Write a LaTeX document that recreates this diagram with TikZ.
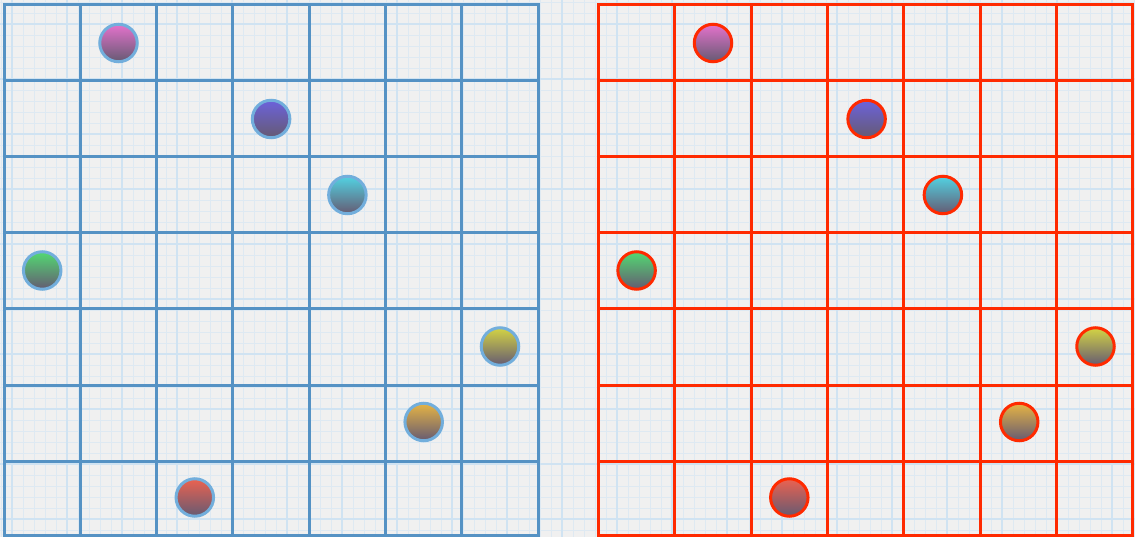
\documentclass[tikz,border=0pt]{standalone}
\usetikzlibrary{calc}
\definecolor{bgcol}{HTML}{F0F0F0}
\definecolor{minorcol}{HTML}{DEE9F2}
\definecolor{majorcol}{HTML}{D0E3F2}
\definecolor{bluegrid}{HTML}{5592C4}
\definecolor{blueedge}{HTML}{72AEDC}
\definecolor{redgrid}{HTML}{FF2A00}
\definecolor{ballbot}{HTML}{655A72}
\definecolor{pinktop}{HTML}{E472CC}
\definecolor{purptop}{HTML}{6C62DC}
\definecolor{cyantop}{HTML}{52D2E2}
\definecolor{greentop}{HTML}{52DA72}
\definecolor{yellowtop}{HTML}{D4D444}
\definecolor{orangetop}{HTML}{E6B444}
\definecolor{redtop}{HTML}{EC6250}
\tikzset{
  x=1pt, y=-1pt,
  minorline/.style={draw=minorcol, line width=0.9pt},
  majorline/.style={draw=majorcol, line width=1.6pt},
  bluegridline/.style={draw=bluegrid, line width=3pt},
  redgridline/.style={draw=redgrid, line width=3pt},
  ball/.style={circle, inner sep=0pt, minimum size=37.5pt, line width=3pt, shading=axis, bottom color=ballbot, shading angle=0},
  lball/.style={ball, draw=blueedge},
  rball/.style={ball, draw=redgrid},
}
\begin{document}
\begin{tikzpicture}
\useasboundingbox (0,0) rectangle (1135,537);
\fill[bgcol] (0,0) rectangle (1135,537);
% background graph paper
\foreach \i in {0,...,104} {
  \pgfmathsetmacro{\xx}{1+11*\i}
  \draw[minorline] (\xx,0) -- (\xx,537);
}
\foreach \j in {0,...,49} {
  \pgfmathsetmacro{\yy}{2+11*\j}
  \draw[minorline] (0,\yy) -- (1135,\yy);
}
\foreach \i in {0,...,20} {
  \pgfmathsetmacro{\xx}{12+55*\i}
  \draw[majorline] (\xx,0) -- (\xx,537);
}
\foreach \j in {0,...,9} {
  \pgfmathsetmacro{\yy}{24+55*\j}
  \draw[majorline] (0,\yy) -- (1135,\yy);
}
% left blue grid
\foreach \i in {0,...,7} {
  \pgfmathsetmacro{\xx}{4+76.3*\i}
  \draw[bluegridline] (\xx,5) -- (\xx,535.5);
}
\foreach \j in {0,...,6} {
  \pgfmathsetmacro{\yy}{5+76*\j}
  \draw[bluegridline] (2.5,\yy) -- (539.6,\yy);
}
\draw[bluegridline] (2.5,535.5) -- (539.6,535.5);
% right red grid
\foreach \i in {0,...,7} {
  \pgfmathsetmacro{\xx}{598.5+76.3*\i}
  \draw[redgridline] (\xx,5) -- (\xx,535.5);
}
\foreach \j in {0,...,6} {
  \pgfmathsetmacro{\yy}{5+76*\j}
  \draw[redgridline] (597,\yy) -- (1134.1,\yy);
}
\draw[redgridline] (597,535.5) -- (1134.1,535.5);
% left balls
\node[lball, top color=pinktop] (lpink) at (118.5,43) {};
\node[lball, top color=purptop] (lpurple) at (271.1,119) {};
\node[lball, top color=cyantop] (lcyan) at (347.4,195) {};
\node[lball, top color=greentop] (lgreen) at (42.2,270.5) {};
\node[lball, top color=yellowtop] (lyellow) at (500,346.5) {};
\node[lball, top color=orangetop] (lorange) at (423.7,422) {};
\node[lball, top color=redtop] (lred) at (194.8,497.5) {};
% right balls
\node[rball, top color=pinktop] (rpink) at (713,43) {};
\node[rball, top color=purptop] (rpurple) at (866.6,119) {};
\node[rball, top color=cyantop] (rcyan) at (942.9,195) {};
\node[rball, top color=greentop] (rgreen) at (636.6,270.5) {};
\node[rball, top color=yellowtop] (ryellow) at (1095.5,346.5) {};
\node[rball, top color=orangetop] (rorange) at (1019.2,422) {};
\node[rball, top color=redtop] (rred) at (789.3,497.5) {};
\end{tikzpicture}
\end{document}
